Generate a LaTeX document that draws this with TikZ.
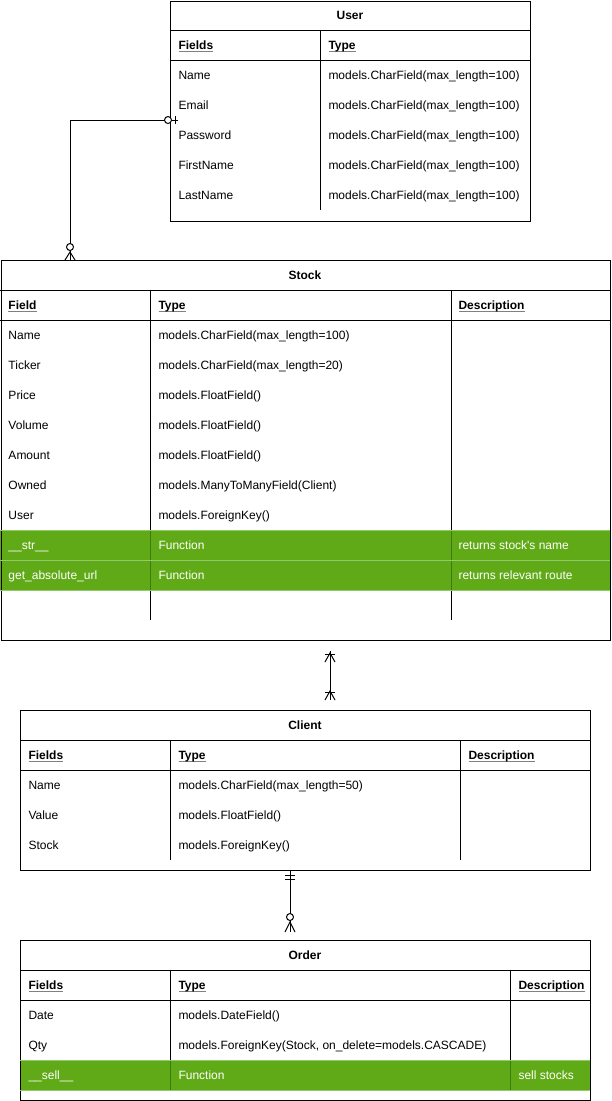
\documentclass[tikz,border=0pt]{standalone}
\usepackage{fontspec}
\setmainfont{Liberation Sans}
\usetikzlibrary{positioning,calc}

\definecolor{rowgreen}{HTML}{60A917}
\definecolor{rowedge}{HTML}{8FCB6A}
\definecolor{rowdiv}{HTML}{3E7A10}

\newcommand{\headul}[1]{\setbox0\hbox{#1}\rlap{\color{gray}\rule[-2.6pt]{\wd0}{1.2pt}}\box0}

\tikzset{
  tableframe/.style={draw, line width=1pt, inner sep=0pt, anchor=north west},
  tabletitle/.style={inner sep=0pt, text height=8.6pt, text depth=0pt, font=\fontsize{12}{14}\selectfont\bfseries},
  cell/.style={anchor=west, inner sep=0pt, text height=8.6pt, text depth=0pt, font=\fontsize{12}{14}\selectfont},
  headcell/.style={cell, font=\fontsize{12}{14}\selectfont\bfseries},
  fncell/.style={cell, text=white},
}

\begin{document}
\begin{tikzpicture}[x=1pt, y=-1pt, line width=1pt]
    \useasboundingbox (0,0) rectangle (611,1101);

    % User
    \node[tableframe, minimum width=360pt, minimum height=220pt] (user) at (170,0.5) {};
    \node[tabletitle] (user title) at (350,15) {User};
    \draw (170,30) -- (530,30) (170,60) -- (530,60) (320,30) -- (320,210);
    \node[headcell] (user h1) at (178,45) {\headul{Fields}};
    \node[headcell] (user h2) at (328,45) {\headul{Type}};
    \foreach \y/\f [count=\i] in {75/Name, 105/Email, 135/Password, 165/FirstName, 195/LastName}{
        \node[cell] (user f\i) at (178,\y) {\f};
        \node[cell] (user t\i) at (328,\y) {models.CharField(max\_length=100)};
    }

    % Stock
    \fill[rowgreen] (0,530) rectangle (610,590);
    \node[tableframe, minimum width=609.5pt, minimum height=380pt] (stock) at (0.5,260) {};
    \node[tabletitle] (stock title) at (305,275) {Stock};
    \draw (0,290) -- (610,290) (0,320) -- (610,320) (150,290) -- (150,620) (451,290) -- (451,620);
    \draw[rowdiv] (150,530) -- (150,590) (451,530) -- (451,590);
    \draw[rowedge] (0,530) -- (610,530) (0,560) -- (610,560) (0,590) -- (610,590);
    \node[headcell] (stock h1) at (8,305) {\headul{Field}};
    \node[headcell] (stock h2) at (158,305) {\headul{Type}};
    \node[headcell] (stock h3) at (458,305) {\headul{Description}};
    \foreach \y/\f/\t [count=\i] in {335/Name/{models.CharField(max\_length=100)},
        365/Ticker/{models.CharField(max\_length=20)}, 395/Price/{models.FloatField()},
        425/Volume/{models.FloatField()}, 455/Amount/{models.FloatField()},
        485/Owned/{models.ManyToManyField(Client)}, 515/User/{models.ForeignKey()}}{
        \node[cell] (stock f\i) at (8,\y) {\f};
        \node[cell] (stock t\i) at (158,\y) {\t};
    }
    \foreach \y/\f/\d [count=\i] in {545/{\_\_str\_\_}/{returns stock\textquotesingle s name},
        575/{get\_absolute\_url}/{returns relevant route}}{
        \node[fncell] (stock m\i) at (8,\y) {\f};
        \node[fncell] (stock k\i) at (158,\y) {Function};
        \node[fncell] (stock d\i) at (458,\y) {\d};
    }

    % Client
    \node[tableframe, minimum width=570pt, minimum height=160pt] (client) at (20,710) {};
    \node[tabletitle] (client title) at (305,725) {Client};
    \draw (20,740) -- (590,740) (20,770) -- (590,770) (170,740) -- (170,860) (460,740) -- (460,860);
    \node[headcell] (client h1) at (28,755) {\headul{Fields}};
    \node[headcell] (client h2) at (178,755) {\headul{Type}};
    \node[headcell] (client h3) at (468,755) {\headul{Description}};
    \foreach \y/\f/\t [count=\i] in {785/Name/{models.CharField(max\_length=50)},
        815/Value/{models.FloatField()}, 845/Stock/{models.ForeignKey()}}{
        \node[cell] (client f\i) at (28,\y) {\f};
        \node[cell] (client t\i) at (178,\y) {\t};
    }

    % Order
    \fill[rowgreen] (20,1060) rectangle (590,1090);
    \node[tableframe, minimum width=570pt, minimum height=160pt] (order) at (20,940) {};
    \node[tabletitle] (order title) at (305,955) {Order};
    \draw (20,970) -- (590,970) (20,1000) -- (590,1000) (170,970) -- (170,1090) (510,970) -- (510,1090);
    \draw[rowdiv] (170,1060) -- (170,1090) (510,1060) -- (510,1090);
    \draw[rowedge] (20,1060) -- (590,1060) (20,1090) -- (590,1090);
    \node[headcell] (order h1) at (28,985) {\headul{Fields}};
    \node[headcell] (order h2) at (178,985) {\headul{Type}};
    \node[headcell] (order h3) at (518,985) {\headul{Description}};
    \node[cell] (order f1) at (28,1015) {Date};
    \node[cell] (order t1) at (178,1015) {models.DateField()};
    \node[cell] (order f2) at (28,1045) {Qty};
    \node[cell] (order t2) at (178,1045) {models.ForeignKey(Stock, on\_delete=models.CASCADE)};
    \node[fncell] (order m1) at (28,1075) {\_\_sell\_\_};
    \node[fncell] (order k1) at (178,1075) {Function};
    \node[fncell] (order d1) at (518,1075) {sell stocks};

    % User -- Stock
    \coordinate (user port) at ($(user.north west)+(8,119.5)$);
    \coordinate (stock port) at ($(stock.north west)+(69.5,0)$);
    \draw (user port) -| (stock port);
    \draw ($(user port)+(-3,-4)$) -- ++(0,8);
    \draw[fill=white] ($(user port)+(-10,0)$) circle[radius=3.5];
    \draw[fill=white] ($(stock port)+(0,-13)$) circle[radius=3.5];
    \draw ($(stock port)+(-5,0)$) -- ($(stock port)+(0,-8)$) -- ($(stock port)+(5,0)$);

    % Stock -- Client
    \coordinate (stock low) at ($(stock.south west)+(329.5,10)$);
    \coordinate (client high) at ($(client.north west)+(310,-10)$);
    \draw (stock low) -- (client high);
    \draw ($(stock low)+(-5,3)$) -- ++(10,0);
    \draw ($(stock low)+(-5,11)$) -- ($(stock low)+(0,2)$) -- ($(stock low)+(5,11)$);
    \draw ($(client high)+(-5,-8)$) -- ++(10,0);
    \draw ($(client high)+(-5,0)$) -- ($(client high)+(0,-9)$) -- ($(client high)+(5,0)$);

    % Client -- Order
    \coordinate (client low) at ($(client.south west)+(270,0)$);
    \coordinate (order high) at ($(order.north west)+(270,-8)$);
    \draw (client low) -- (order high);
    \draw ($(client low)+(-5,4)$) -- ++(10,0);
    \draw ($(client low)+(-5,8)$) -- ++(10,0);
    \draw[fill=white] ($(order high)+(0,-15)$) circle[radius=3.5];
    \draw ($(order high)+(-5,0)$) -- ($(order high)+(0,-10)$) -- ($(order high)+(5,0)$);
\end{tikzpicture}
\end{document}
